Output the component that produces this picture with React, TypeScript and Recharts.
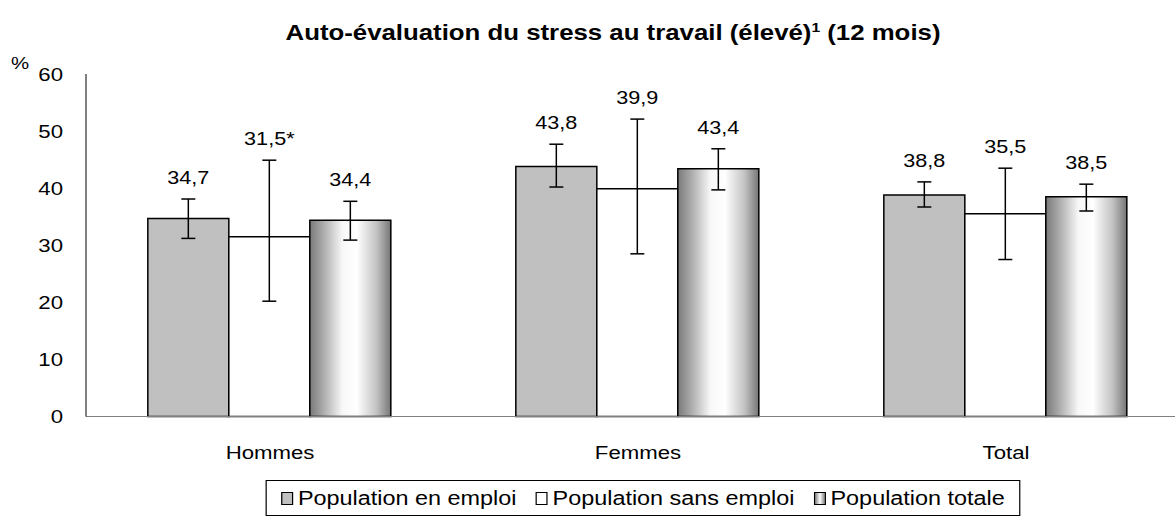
import React from "react";
import { BarChart, Bar, XAxis, YAxis, ErrorBar, LabelList } from "recharts";

const categories = ["Hommes", "Femmes", "Total"];
const seriesNames = ["Population en emploi", "Population sans emploi", "Population totale"];
const enEmploi = [34.7, 43.8, 38.8];
const sansEmploi = [31.5, 39.9, 35.5];
const popTotale = [34.4, 43.4, 38.5];
// intervalles de confiance : [écart bas, écart haut]
const enEmploiErr = [[3.5, 3.4], [3.6, 3.9], [2.1, 2.3]];
const sansEmploiErr = [[11.3, 13.4], [11.4, 12.2], [8.0, 8.0]];
const popTotaleErr = [[3.5, 3.3], [3.7, 3.5], [2.5, 2.2]];
const sansEmploiNotes = ["*", "", ""];
const yTicks = [0, 10, 20, 30, 40, 50, 60];

// the source image is stretched horizontally, text is widened to match
const SX = 1.2;
const FONT = "'Liberation Sans', Arial, sans-serif";

const data = categories.map((name, i) => ({
  name,
  enEmploi: enEmploi[i],
  enEmploiErr: enEmploiErr[i],
  sansEmploi: sansEmploi[i],
  sansEmploiErr: sansEmploiErr[i],
  popTotale: popTotale[i],
  popTotaleErr: popTotaleErr[i],
}));

const fmt = (v: number) => v.toFixed(1).replace(".", ",");

function valueLabel(errs: number[][], notes?: string[]) {
  return (props: any) => {
    const vb = props.viewBox || props;
    const x = vb.x ?? props.x;
    const w = vb.width ?? props.width;
    const h = Math.abs(vb.height ?? props.height);
    const yTop = Math.min(vb.y ?? props.y, (vb.y ?? props.y) + (vb.height ?? props.height));
    const i = props.index;
    const v = Number(props.value);
    const errTop = yTop - (errs[i][1] * h) / v;
    return (
      <text
        transform={`translate(${x + w / 2},${errTop - 15}) scale(${SX},1)`}
        textAnchor="middle"
        fontSize={18}
        fontFamily={FONT}
        fill="#000"
      >
        {fmt(v) + (notes ? notes[i] : "")}
      </text>
    );
  };
}

const YTick = (p: any) => (
  <text
    transform={`translate(${p.x - 23},${p.y + 6.5}) scale(${SX},1)`}
    textAnchor="end"
    fontSize={18.5}
    fontFamily={FONT}
    fill="#000"
  >
    {p.payload.value}
  </text>
);

const XTick = (p: any) => (
  <text
    transform={`translate(${p.x},${p.y + 42.5}) scale(${SX},1)`}
    textAnchor="middle"
    fontSize={18.5}
    fontFamily={FONT}
    fill="#000"
  >
    {p.payload.value}
  </text>
);

const markerFills = ["#C0C0C0", "#FFFFFF", "linear-gradient(to right, #808080, #ffffff 50%, #808080)"];

function Legend() {
  return (
    <div
      style={{
        position: "absolute",
        left: 643,
        top: 480,
        transform: `translateX(-50%) scaleX(${SX})`,
        border: "1px solid #000",
        padding: "7px 12px",
        display: "flex",
        alignItems: "center",
        gap: 16,
        fontSize: 19.5,
        fontFamily: FONT,
        whiteSpace: "nowrap",
        background: "#fff",
        lineHeight: "20px",
      }}
    >
      {seriesNames.map((n, i) => (
        <span key={n} style={{ display: "flex", alignItems: "center", gap: 4 }}>
          <span
            style={{
              display: "inline-block",
              width: 8,
              height: 11,
              border: "1px solid #000",
              background: markerFills[i],
            }}
          />
          {n}
        </span>
      ))}
    </div>
  );
}

export default function App() {
  return (
    <div
      style={{
        position: "fixed",
        left: 0,
        top: 0,
        width: 1175,
        height: 525,
        overflow: "hidden",
        background: "#fff",
      }}
    >
      <BarChart
        width={1190}
        height={525}
        data={data}
        margin={{ top: 74, right: 0, bottom: 68.5, left: 0 }}
        barGap={0}
        barCategoryGap="16.8%"
      >
        <defs>
          <linearGradient id="cylindre" x1="0" y1="0" x2="1" y2="0">
            <stop offset="0" stopColor="#7a7a7a" />
            <stop offset="0.15" stopColor="#a6a6a6" />
            <stop offset="0.4" stopColor="#f7f7f7" />
            <stop offset="0.58" stopColor="#ffffff" />
            <stop offset="0.82" stopColor="#c4c4c4" />
            <stop offset="1" stopColor="#767676" />
          </linearGradient>
        </defs>
        <XAxis
          dataKey="name"
          axisLine={{ stroke: "#808080" }}
          tickLine={false}
          tickSize={0}
          tickMargin={0}
          height={40}
          tick={XTick}
        />
        <YAxis
          domain={[0, 60]}
          ticks={yTicks}
          width={86}
          axisLine={{ stroke: "#000" }}
          tickLine={false}
          tickSize={0}
          tickMargin={0}
          tick={YTick}
        />
        <Bar dataKey="enEmploi" fill="#C0C0C0" stroke="#000" strokeWidth={1.5} isAnimationActive={false}>
          <ErrorBar dataKey="enEmploiErr" width={7} stroke="#000" strokeWidth={1.5} direction="y" isAnimationActive={false} />
          <LabelList dataKey="enEmploi" content={valueLabel(enEmploiErr)} />
        </Bar>
        <Bar dataKey="sansEmploi" fill="#FFFFFF" stroke="#000" strokeWidth={1.5} isAnimationActive={false}>
          <ErrorBar dataKey="sansEmploiErr" width={7} stroke="#000" strokeWidth={1.5} direction="y" isAnimationActive={false} />
          <LabelList dataKey="sansEmploi" content={valueLabel(sansEmploiErr, sansEmploiNotes)} />
        </Bar>
        <Bar dataKey="popTotale" fill="url(#cylindre)" stroke="#000" strokeWidth={1.5} isAnimationActive={false}>
          <ErrorBar dataKey="popTotaleErr" width={7} stroke="#000" strokeWidth={1.5} direction="y" isAnimationActive={false} />
          <LabelList dataKey="popTotale" content={valueLabel(popTotaleErr)} />
        </Bar>
      </BarChart>

      <svg width={1175} height={72} style={{ position: "absolute", left: 0, top: 0 }}>
        <text
          transform={`translate(613,40) scale(${SX},1)`}
          textAnchor="middle"
          fontSize={21.5}
          fontWeight="bold"
          fontFamily={FONT}
          fill="#000"
        >
          Auto-évaluation du stress au travail (élevé)
          <tspan fontSize={13} dy={-8}>1</tspan>
          <tspan dy={8}> (12 mois)</tspan>
        </text>
        <text transform={`translate(11,69) scale(${SX},1)`} fontSize={17} fontFamily={FONT} fill="#000">
          %
        </text>
      </svg>

      <Legend />
    </div>
  );
}
